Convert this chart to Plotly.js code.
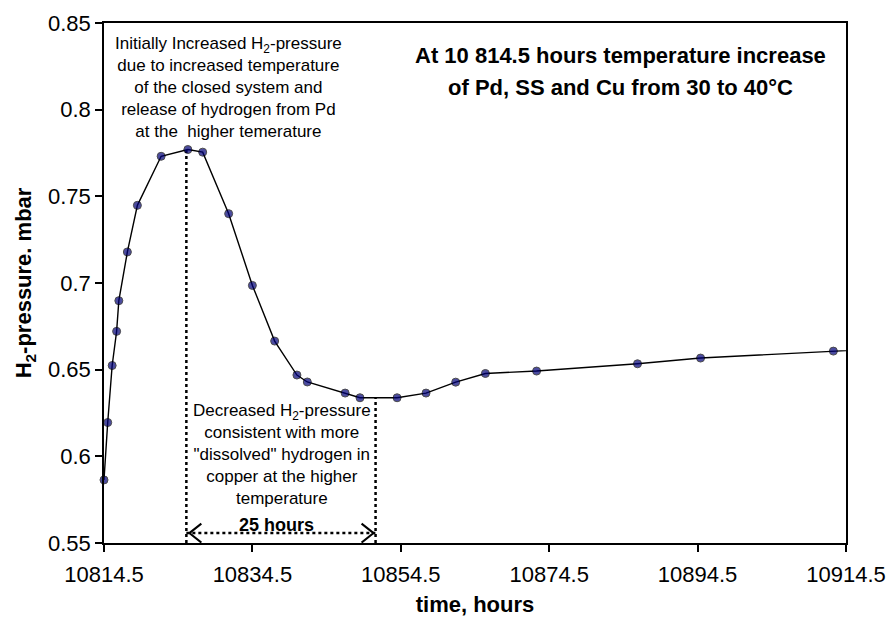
<!DOCTYPE html>
<html>
<head>
<meta charset="utf-8">
<script src="https://cdn.plot.ly/plotly-3.0.1.min.js"></script>
<style>
  html, body { margin: 0; padding: 0; background: #ffffff; }
  #chart { width: 887px; height: 617px; }
</style>
</head>
<body>
<div id="chart"></div>
<script>
// ---- data ----
const hours = [10814.5, 10815.0, 10815.6, 10816.2, 10816.5, 10817.65, 10819.0, 10822.2,
               10825.8, 10827.8, 10831.3, 10834.5, 10837.5, 10840.5, 10841.9, 10847.0,
               10849.0, 10854.0, 10857.9, 10861.9, 10865.9, 10872.8, 10886.4, 10894.9,
               10912.8, 10920.0];
const pressure = [0.5864, 0.6195, 0.6524, 0.6721, 0.6898, 0.7179, 0.7448, 0.7731,
                  0.7770, 0.7755, 0.7400, 0.6986, 0.6665, 0.6469, 0.6429, 0.6365,
                  0.6338, 0.6338, 0.6365, 0.6428, 0.6478, 0.6492, 0.6534, 0.6567,
                  0.6607, 0.6622];
const xTickVals = [10814.5, 10834.5, 10854.5, 10874.5, 10894.5, 10914.5];
const xTickText = ["10814.5", "10834.5", "10854.5", "10874.5", "10894.5", "10914.5"];
const yTickVals = [0.55, 0.6, 0.65, 0.7, 0.75, 0.8, 0.85];
const yTickText = ["0.55", "0.6", "0.65", "0.7", "0.75", "0.8", "0.85"];
const xRange = [10814.5, 10914.5];
const yRange = [0.55, 0.85];

// 25-hour interval markers
const intervalStart = 10825.6, intervalStartTop = 0.777;
const intervalEnd = 10851.1, intervalEndTop = 0.6338;
const arrowLevel = 0.5557;

// ---- layout geometry ----
const W = 887, H = 617;
const plotL = 104, plotR = 846, plotT = 23, plotB = 543;
const px = x => (x - plotL) / (plotR - plotL);
const py = y => (plotB - y) / (plotB - plotT);

const FONT = "Liberation Sans, Arial, Helvetica, sans-serif";

const markerSizes = hours.map(h => (h <= xRange[1] ? 8 : 0));

const trace = {
  x: hours,
  y: pressure,
  type: "scatter",
  mode: "lines+markers",
  line: { color: "#000000", width: 1.4 },
  marker: { color: "#000078", size: markerSizes, line: { color: "#000000", width: 1 } },
  cliponaxis: false,
  hoverinfo: "x+y",
  showlegend: false
};

const dotted = { color: "#000000", width: 2.5, dash: "dot" };
const chev = { color: "#000000", width: 2 };

const shapes = [
  { type: "line", xref: "x", yref: "y", x0: intervalStart, x1: intervalStart, y0: yRange[0], y1: intervalStartTop, line: dotted, layer: "below" },
  { type: "line", xref: "x", yref: "y", x0: intervalEnd, x1: intervalEnd, y0: yRange[0], y1: intervalEndTop, line: dotted, layer: "below" },
  { type: "line", xref: "x", yref: "y", x0: intervalStart, x1: intervalEnd, y0: arrowLevel, y1: arrowLevel, line: dotted },
  { type: "path", xref: "x", yref: "y", xsizemode: "pixel", ysizemode: "pixel",
    xanchor: intervalStart, yanchor: arrowLevel, path: "M 15 9.5 L 3 0 L 15 -9.5", line: chev },
  { type: "path", xref: "x", yref: "y", xsizemode: "pixel", ysizemode: "pixel",
    xanchor: intervalEnd, yanchor: arrowLevel, path: "M -14 9.5 L -2 0 L -14 -9.5", line: chev }
];

const annotations = [
  { xref: "paper", yref: "paper", x: px(228), y: py(87), xanchor: "center", yanchor: "middle",
    showarrow: false, align: "center",
    font: { family: FONT, size: 17, color: "#000" },
    text: "Initially Increased H<sub>2</sub>-pressure<br>due to increased temperature<br>of the closed system and<br>release of hydrogen from Pd<br>at the  higher temerature" },
  { xref: "paper", yref: "paper", x: px(620), y: py(55), xanchor: "center", yanchor: "middle",
    showarrow: false, font: { family: FONT, size: 22, color: "#000" },
    text: "<b>At 10 814.5 hours temperature increase</b>" },
  { xref: "paper", yref: "paper", x: px(620), y: py(87), xanchor: "center", yanchor: "middle",
    showarrow: false, font: { family: FONT, size: 22, color: "#000" },
    text: "<b>of Pd, SS and Cu from 30 to 40°C</b>" },
  { xref: "paper", yref: "paper", x: px(282), y: py(455), xanchor: "center", yanchor: "middle",
    showarrow: false, align: "center",
    font: { family: FONT, size: 17, color: "#000" },
    text: "Decreased H<sub>2</sub>-pressure<br>consistent with more<br>\"dissolved\" hydrogen in<br>copper at the higher<br>temperature" },
  { xref: "paper", yref: "paper", x: px(276), y: py(525), xanchor: "center", yanchor: "middle",
    showarrow: false, font: { family: FONT, size: 18, color: "#000" },
    text: "<b>25 hours</b>" }
];

const layout = {
  width: W, height: H,
  paper_bgcolor: "#ffffff", plot_bgcolor: "#ffffff",
  margin: { l: plotL, r: W - plotR, t: plotT, b: H - plotB, pad: 0 },
  font: { family: FONT, color: "#000000" },
  showlegend: false,
  xaxis: {
    range: xRange, tickvals: xTickVals, ticktext: xTickText,
    ticks: "outside", ticklen: 7, tickwidth: 1.5, tickcolor: "#000",
    ticklabelstandoff: 4,
    showline: true, linecolor: "#000", linewidth: 1.5, mirror: true,
    showgrid: false, zeroline: false,
    tickfont: { family: FONT, size: 22, color: "#000" },
    title: { text: "<b>time, hours</b>", font: { family: FONT, size: 22, color: "#000" }, standoff: 10 }
  },
  yaxis: {
    range: yRange, tickvals: yTickVals, ticktext: yTickText,
    ticks: "outside", ticklen: 7, tickwidth: 1.5, tickcolor: "#000",
    showline: true, linecolor: "#000", linewidth: 1.5, mirror: true,
    showgrid: false, zeroline: false,
    tickfont: { family: FONT, size: 22, color: "#000" },
    title: { text: "<b>H<sub>2</sub>-pressure. mbar</b>", font: { family: FONT, size: 22, color: "#000" }, standoff: 10 }
  },
  shapes: shapes,
  annotations: annotations
};

Plotly.newPlot("chart", [trace], layout, { displayModeBar: false, staticPlot: false });
</script>
</body>
</html>
